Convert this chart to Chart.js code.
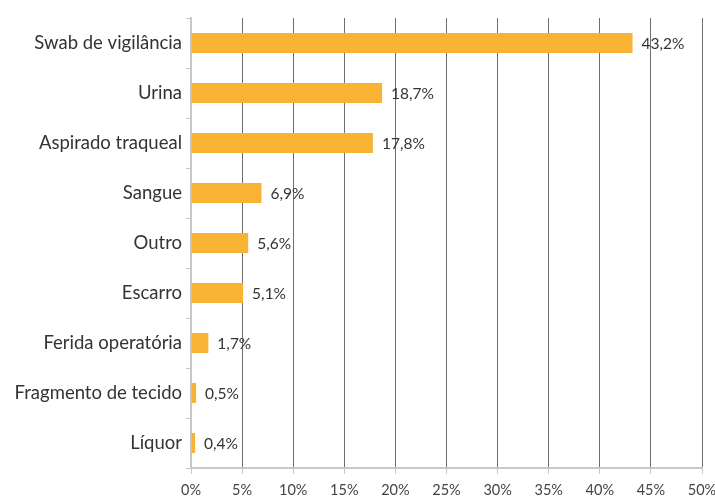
<!DOCTYPE html>
<html>
<head>
<meta charset="utf-8">
<script src="https://cdn.jsdelivr.net/npm/chart.js@4.4.0/dist/chart.umd.min.js"></script>
<style>
  html, body { margin: 0; padding: 0; background: #fff; }
  #wrap { width: 715px; height: 504px; position: relative; }
</style>
</head>
<body>
<div id="wrap"><canvas id="barChart"></canvas></div>
<script>
// categories and percentages
var categorias = ["Swab de vigilância", "Urina", "Aspirado traqueal", "Sangue", "Outro",
                  "Escarro", "Ferida operatória", "Fragmento de tecido", "Líquor"];
var percentagens = [43.2, 18.7, 17.8, 6.9, 5.6, 5.1, 1.7, 0.5, 0.4];
var eixoX = [0, 5, 10, 15, 20, 25, 30, 35, 40, 45, 50];

function fmt(v) {
    return v.toFixed(1).replace('.', ',') + '%';
}

// value labels at the end of each bar
var rotulos = {
    id: 'rotulos',
    afterDatasetsDraw: function(chart) {
        var ctx = chart.ctx;
        var meta = chart.getDatasetMeta(0);
        ctx.save();
        ctx.font = '15.5px Lato';
        ctx.fillStyle = '#333';
        ctx.textBaseline = 'middle';
        meta.data.forEach(function(bar, i) {
            ctx.fillText(fmt(percentagens[i]), bar.x + 9, bar.y + 1);
        });
        ctx.restore();
    }
};

var ctxBar = document.getElementById('barChart');
var barChart = new Chart(ctxBar, {
    type: 'bar',
    data: {
        labels: categorias,
        datasets: [{
            data: percentagens,
            backgroundColor: '#F8B234',
            barPercentage: 0.4,
            categoryPercentage: 1.0
        }]
    },
    options: {
        indexAxis: 'y',
        responsive: true,
        maintainAspectRatio: false,
        animation: false,
        layout: { padding: { top: 18, right: 0, left: 0, bottom: 0 } },
        plugins: {
            legend: { display: false },
            tooltip: { enabled: false }
        },
        scales: {
            x: {
                min: 0,
                max: 50,
                afterBuildTicks: function(scale) {
                    scale.ticks = eixoX.map(function(v) { return { value: v }; });
                },
                afterFit: function(scale) {
                    scale.height = 36;
                    scale.paddingRight = 13;
                },
                border: { color: '#c8c8c8', width: 2 },
                grid: {
                    color: function(c) { return c.index === 0 ? 'rgba(0,0,0,0)' : '#6e6e6e'; },
                    tickColor: '#c8c8c8',
                    tickLength: 6,
                    lineWidth: 1
                },
                ticks: {
                    padding: 8,
                    color: '#444',
                    font: { family: 'Lato', size: 14.5 },
                    callback: function(v) { return v + '%'; }
                }
            },
            y: {
                afterFit: function(scale) { scale.width = 191; },
                border: { color: '#c8c8c8', width: 2 },
                grid: {
                    drawOnChartArea: false,
                    color: '#c8c8c8',
                    tickLength: 5,
                    offset: true
                },
                ticks: {
                    padding: 4,
                    color: '#333',
                    font: { family: 'Lato', size: 18.5 }
                }
            }
        }
    },
    plugins: [rotulos]
});
</script>
</body>
</html>
